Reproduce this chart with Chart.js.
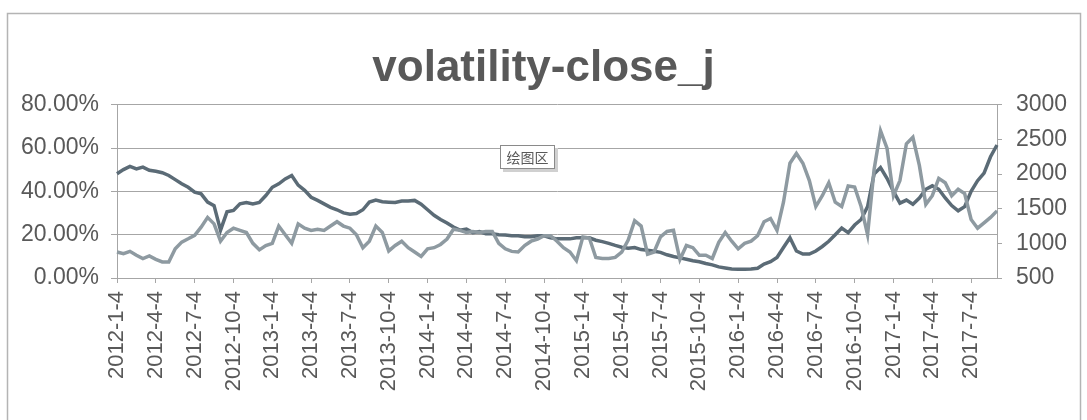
<!DOCTYPE html>
<html>
<head>
<meta charset="utf-8">
<script src="https://cdn.jsdelivr.net/npm/chart.js@4"></script>
<style>
  html, body { margin: 0; padding: 0; background: #fff; }
  #wrap { width: 1087px; height: 420px; position: relative; }
</style>
</head>
<body>
<div id="wrap"><canvas id="grafico"></canvas></div>
<script>
// etiquetas trimestrales del eje X
const quarterLabels = [
  '2012-1-4', '2012-4-4', '2012-7-4', '2012-10-4',
  '2013-1-4', '2013-4-4', '2013-7-4', '2013-10-4',
  '2014-1-4', '2014-4-4', '2014-7-4', '2014-10-4',
  '2015-1-4', '2015-4-4', '2015-7-4', '2015-10-4',
  '2016-1-4', '2016-4-4', '2016-7-4', '2016-10-4',
  '2017-1-4', '2017-4-4', '2017-7-4'
];
const pointsPerQuarter = 6;

// volatilidad (%), eje izquierdo
const volatility = [
  12, 11.2, 12.3, 10.5, 9, 10.2, 8.6, 7.4, 7.4, 13.5,
  16.6, 18.1, 19.7, 23.5, 28, 25, 17, 21, 23, 22,
  21, 16, 13, 15, 16, 24, 20, 16, 25, 23,
  22, 22.5, 22, 24, 26, 24, 23, 20, 14, 17,
  24, 21, 12.5, 15, 17, 14, 12, 10, 13.5, 14,
  15.5, 18, 22.5, 22, 21, 21.5, 21, 21.5, 21.5, 16,
  13.5, 12.3, 12, 15, 17, 18, 19.5, 19.5, 17, 14,
  12, 8, 19, 18.5, 9.5, 9, 9, 9.5, 12, 17.5,
  26.5, 24, 11, 12, 19, 21.5, 22, 8.5, 15, 14,
  10.5, 10.5, 9, 16.5, 21, 17, 13.5, 16, 17, 19.5,
  26, 27.5, 22, 35, 53, 57.5, 53, 45, 33, 38,
  44, 35, 33, 42.5, 42, 33, 20, 50, 68, 60,
  38, 45, 62, 65, 52, 34, 38, 46, 44, 38,
  41, 39, 27, 23, 25.5, 28, 31
];

// precio de cierre, eje derecho
const closeJ = [
  2005, 2065, 2110, 2075, 2100, 2055, 2040, 2020, 1980, 1920,
  1860, 1810, 1740, 1715, 1595, 1545, 1190, 1455, 1475, 1570,
  1590, 1570, 1590, 1690, 1810, 1860, 1930, 1980, 1840, 1765,
  1665, 1620, 1570, 1520, 1485, 1440, 1420, 1430, 1485, 1595,
  1625, 1600, 1595, 1590, 1610, 1610, 1620, 1565, 1485, 1405,
  1345, 1295, 1235, 1190, 1205, 1155, 1170, 1140, 1140, 1125,
  1120, 1110, 1110, 1095, 1095, 1110, 1110, 1080, 1065, 1065,
  1065, 1080, 1080, 1080, 1045, 1025, 1000, 970, 945, 930,
  940, 910, 900, 885, 870, 835, 810, 790, 770, 750,
  735, 710, 690, 660, 645, 630, 625, 625, 630, 640,
  700, 735, 795, 940, 1080, 890, 845, 845, 890, 955,
  1030, 1125, 1220, 1155, 1265, 1345, 1530, 2000, 2095, 1940,
  1750, 1580, 1625, 1565, 1655, 1780, 1830, 1780, 1655, 1545,
  1470, 1530, 1750, 1905, 2015, 2250, 2420
];

const leftTicks = [0, 20, 40, 60, 80];
const rightTicks = [500, 1000, 1500, 2000, 2500, 3000];

const etiquetas = volatility.map((_, i) =>
  i % pointsPerQuarter === 0 ? (quarterLabels[i / pointsPerQuarter] || '') : '');

const gris = '#595959';
const lineaEje = '#a6a6a6';

// marco exterior y cuadro "绘图区"
const marco = {
  id: 'marco',
  beforeDraw(chart) {
    const c = chart.ctx;
    c.save();
    c.fillStyle = '#fff';
    c.fillRect(0, 0, chart.width, chart.height);
    c.strokeStyle = '#b4b4b4';
    c.lineWidth = 1.5;
    c.strokeRect(7.5, 13.5, 1073, 420);
    c.restore();
  },
  afterDraw(chart) {
    const c = chart.ctx;
    c.save();
    c.fillStyle = '#d0d0d0';
    c.fillRect(503, 148, 55, 24);
    c.fillStyle = '#fff';
    c.fillRect(500, 145, 55, 24);
    c.strokeStyle = '#8a8a8a';
    c.lineWidth = 1;
    c.strokeRect(500.5, 145.5, 54, 23);
    c.fillStyle = gris;
    c.font = '14px "Noto Sans CJK SC"';
    c.textAlign = 'center';
    c.textBaseline = 'middle';
    c.fillText('绘图区', 527.5, 157.5);
    c.restore();
  }
};

Chart.defaults.font.family = '"Liberation Sans", Arial, sans-serif';
Chart.defaults.color = gris;

const ctx = document.getElementById('grafico').getContext('2d');
new Chart(ctx, {
  type: 'line',
  data: {
    labels: etiquetas,
    datasets: [{
      label: 'volatility',
      data: volatility,
      yAxisID: 'y',
      borderColor: '#8e9aa1',
      borderWidth: 3.5,
      pointRadius: 0,
      tension: 0
    }, {
      label: 'close_j',
      data: closeJ,
      yAxisID: 'y1',
      borderColor: '#5b6b76',
      borderWidth: 3.5,
      pointRadius: 0,
      tension: 0
    }]
  },
  options: {
    responsive: true,
    maintainAspectRatio: false,
    animation: false,
    layout: { padding: 0 },
    plugins: {
      legend: { display: false },
      tooltip: { enabled: false },
      title: {
        display: true,
        text: 'volatility-close_j',
        color: gris,
        font: { size: 44, weight: 'bold' },
        padding: { top: 42, bottom: 10 }
      }
    },
    scales: {
      x: {
        offset: false,
        grid: {
          drawOnChartArea: false,
          tickLength: 5,
          color: c => c.index % pointsPerQuarter === 0 ? lineaEje : 'rgba(0,0,0,0)'
        },
        border: { display: true, color: lineaEje },
        ticks: {
          autoSkip: false,
          maxRotation: 90,
          minRotation: 90,
          padding: 8,
          font: { size: 22 }
        },
        afterFit: s => { s.height = 142; }
      },
      y: {
        position: 'left',
        min: leftTicks[0],
        max: leftTicks[leftTicks.length - 1],
        afterBuildTicks: s => { s.ticks = leftTicks.map(v => ({ value: v })); },
        grid: { color: lineaEje, tickLength: 6 },
        border: { display: true, color: lineaEje },
        ticks: {
          padding: 12,
          font: { size: 23 },
          callback: v => v.toFixed(2) + '%'
        },
        afterFit: s => { s.width = 117; }
      },
      y1: {
        position: 'right',
        min: rightTicks[0],
        max: rightTicks[rightTicks.length - 1],
        afterBuildTicks: s => { s.ticks = rightTicks.map(v => ({ value: v })); },
        grid: { drawOnChartArea: false, color: lineaEje, tickLength: 5 },
        border: { display: true, color: lineaEje },
        ticks: {
          padding: 14,
          font: { size: 23 },
          callback: v => String(v)
        },
        afterFit: s => { s.width = 90; }
      }
    }
  },
  plugins: [marco]
});
</script>
</body>
</html>
